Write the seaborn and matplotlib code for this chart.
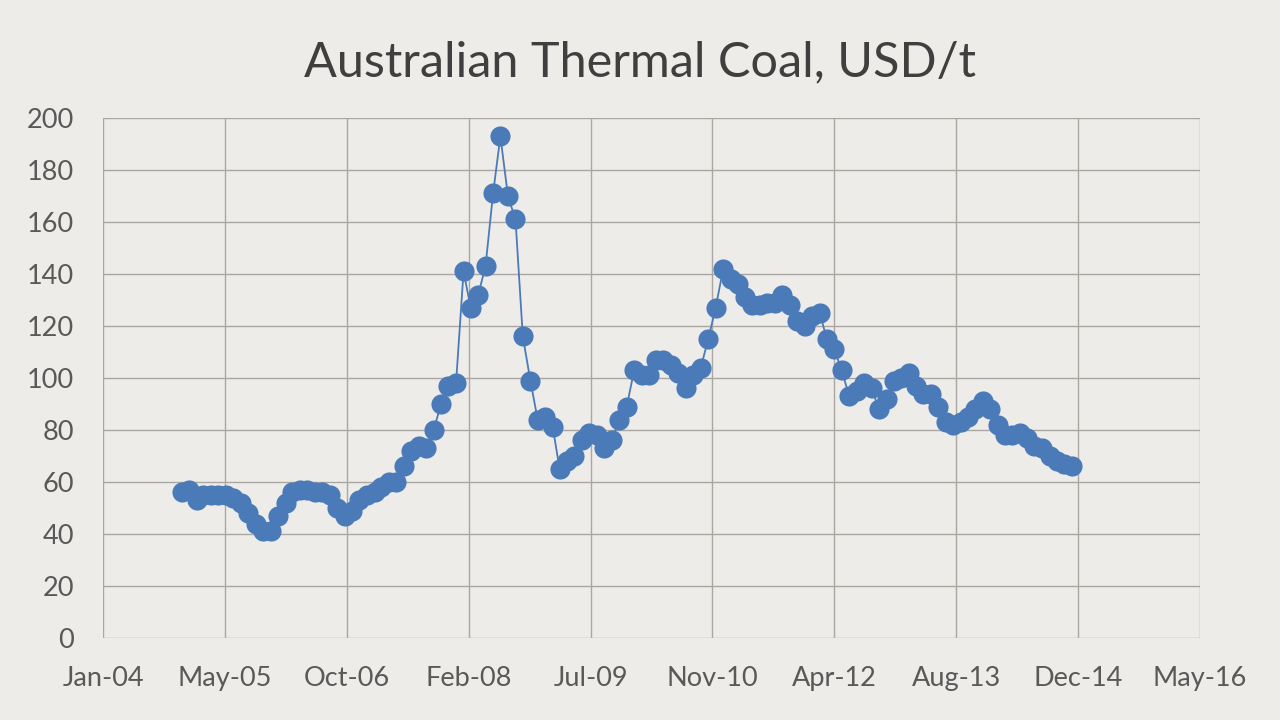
import pandas as pd
import matplotlib.pyplot as plt
import seaborn as sns

# monthly prices, Dec-2004 .. Dec-2014
months = pd.date_range("2004-12-01", "2014-12-01", freq="MS")
prices = [
    56, 57, 53, 55, 55, 55, 55, 54, 52, 48, 44, 41, 41,      # Dec04 - Dec05
    47, 52, 56, 57, 57, 56, 56, 55, 50, 47, 49, 53,          # 2006
    55, 56, 58, 60, 60, 66, 72, 74, 73, 80, 90, 97,          # 2007
    98, 141, 127, 132, 143, 171, 193, 170, 161, 116, 99, 84, # 2008
    85, 81, 65, 68, 70, 76, 79, 78, 73, 76, 84, 89,          # 2009
    103, 101, 101, 107, 107, 105, 102, 96, 101, 104, 115, 127,  # 2010
    142, 138, 136, 131, 128, 128, 129, 129, 132, 128, 122, 120, # 2011
    124, 125, 115, 111, 103, 93, 95, 98, 96, 88, 92, 99,     # 2012
    100, 102, 97, 94, 94, 89, 83, 82, 83, 85, 88, 91,        # 2013
    88, 82, 78, 78, 79, 77, 74, 73, 70, 68, 67, 66,          # 2014
]
df = pd.DataFrame({"date": months, "price": prices})

# excel style date axis: serial 38000 .. 42500, step 500 days
excel0 = pd.Timestamp("1899-12-30")
tick_dates = [excel0 + pd.Timedelta(days=d) for d in range(38000, 42501, 500)]
tick_labels = [t.strftime("%b-%y") for t in tick_dates]
y_ticks = list(range(0, 201, 20))

bg = "#eeece9"
sns.set_style("white")
plt.rcParams["font.family"] = ["Lato", "DejaVu Sans"]

fig, ax = plt.subplots(figsize=(12.8, 7.2), dpi=100)
fig.patch.set_facecolor(bg)
ax.set_facecolor(bg)
fig.subplots_adjust(left=0.0805, right=0.9375, top=0.836, bottom=0.114)

sns.lineplot(data=df, x="date", y="price", ax=ax, color="#4a7ab8",
             linewidth=1.3, marker="o", markersize=14.5, markeredgewidth=0)

ax.set_xlim(tick_dates[0], tick_dates[-1])
ax.set_ylim(0, 200)
ax.set_xticks(tick_dates)
ax.set_xticklabels(tick_labels)
ax.set_yticks(y_ticks)
ax.grid(True, color="#aaa6a2", linewidth=1.0)
ax.set_axisbelow(True)
for s in ax.spines.values():
    s.set_visible(False)
ax.tick_params(axis="both", length=0, labelsize=19.5, labelcolor="#595959")
ax.tick_params(axis="x", pad=20)
ax.tick_params(axis="y", pad=21)
ax.set_xlabel("")
ax.set_ylabel("")

fig.text(0.5, 0.914, "Australian Thermal Coal, USD/t", ha="center", va="center",
         fontsize=35, color="#3f3f3f")

fig.savefig("out.png", dpi=100, facecolor=bg)
